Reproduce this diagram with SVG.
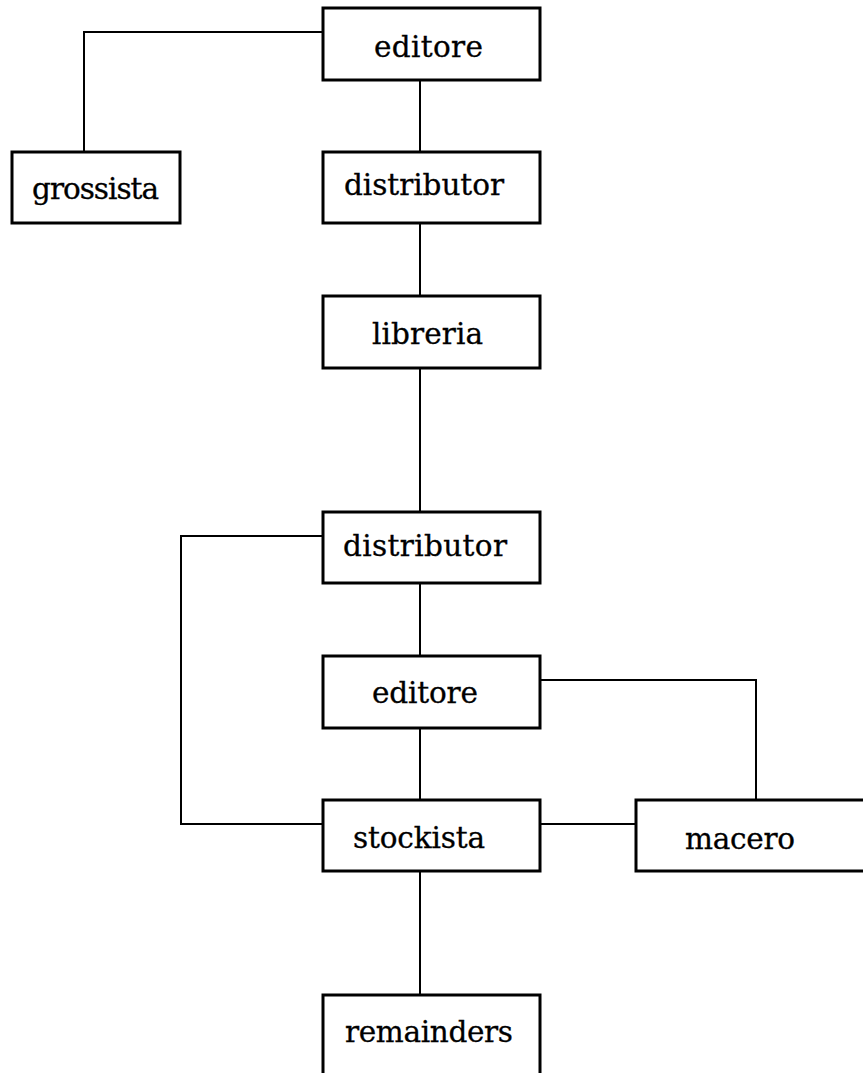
<svg xmlns="http://www.w3.org/2000/svg" width="863" height="1073" viewBox="0 0 863 1073">
<style>
.box{fill:#fff;stroke:#000;stroke-width:3}
.lbl{font-family:"DejaVu Serif","Liberation Serif",serif;font-size:29.5px;fill:#000;stroke:#000;stroke-width:0.3}
.conn{fill:none;stroke:#000;stroke-width:2}
</style>
<rect width="863" height="1073" fill="#fff"/>
<g id="connectors">
<polyline class="conn" points="323,32 84,32 84,152"/>
<line class="conn" x1="420" y1="80" x2="420" y2="152"/>
<line class="conn" x1="420" y1="223" x2="420" y2="296"/>
<line class="conn" x1="420" y1="368" x2="420" y2="512"/>
<line class="conn" x1="420" y1="583" x2="420" y2="656"/>
<line class="conn" x1="420" y1="728" x2="420" y2="800"/>
<polyline class="conn" points="323,536 181,536 181,824 323,824"/>
<polyline class="conn" points="540,680 756,680 756,800"/>
<line class="conn" x1="540" y1="824" x2="636" y2="824"/>
<line class="conn" x1="420" y1="871" x2="420" y2="995"/>
</g>
<g id="editore1"><rect class="box" x="323" y="8" width="217" height="72"/><text class="lbl" x="374" y="57" textLength="109">editore</text></g>
<g id="grossista"><rect class="box" x="12" y="152" width="168" height="71"/><text class="lbl" x="32" y="199" textLength="127">grossista</text></g>
<g id="distributor1"><rect class="box" x="323" y="152" width="217" height="71"/><text class="lbl" x="344" y="195" textLength="160">distributor</text></g>
<g id="libreria"><rect class="box" x="323" y="296" width="217" height="72"/><text class="lbl" x="372" y="344" textLength="111">libreria</text></g>
<g id="distributor2"><rect class="box" x="323" y="512" width="217" height="71"/><text class="lbl" x="343" y="556" textLength="164">distributor</text></g>
<g id="editore2"><rect class="box" x="323" y="656" width="217" height="72"/><text class="lbl" x="372" y="703" textLength="106">editore</text></g>
<g id="stockista"><rect class="box" x="323" y="800" width="217" height="71"/><text class="lbl" x="353" y="848" textLength="132">stockista</text></g>
<g id="macero"><rect class="box" x="636" y="800" width="240" height="71"/><text class="lbl" x="685" y="849" textLength="110">macero</text></g>
<g id="remainders"><rect class="box" x="323" y="995" width="217" height="100"/><text class="lbl" x="345" y="1042" textLength="168">remainders</text></g>
</svg>
